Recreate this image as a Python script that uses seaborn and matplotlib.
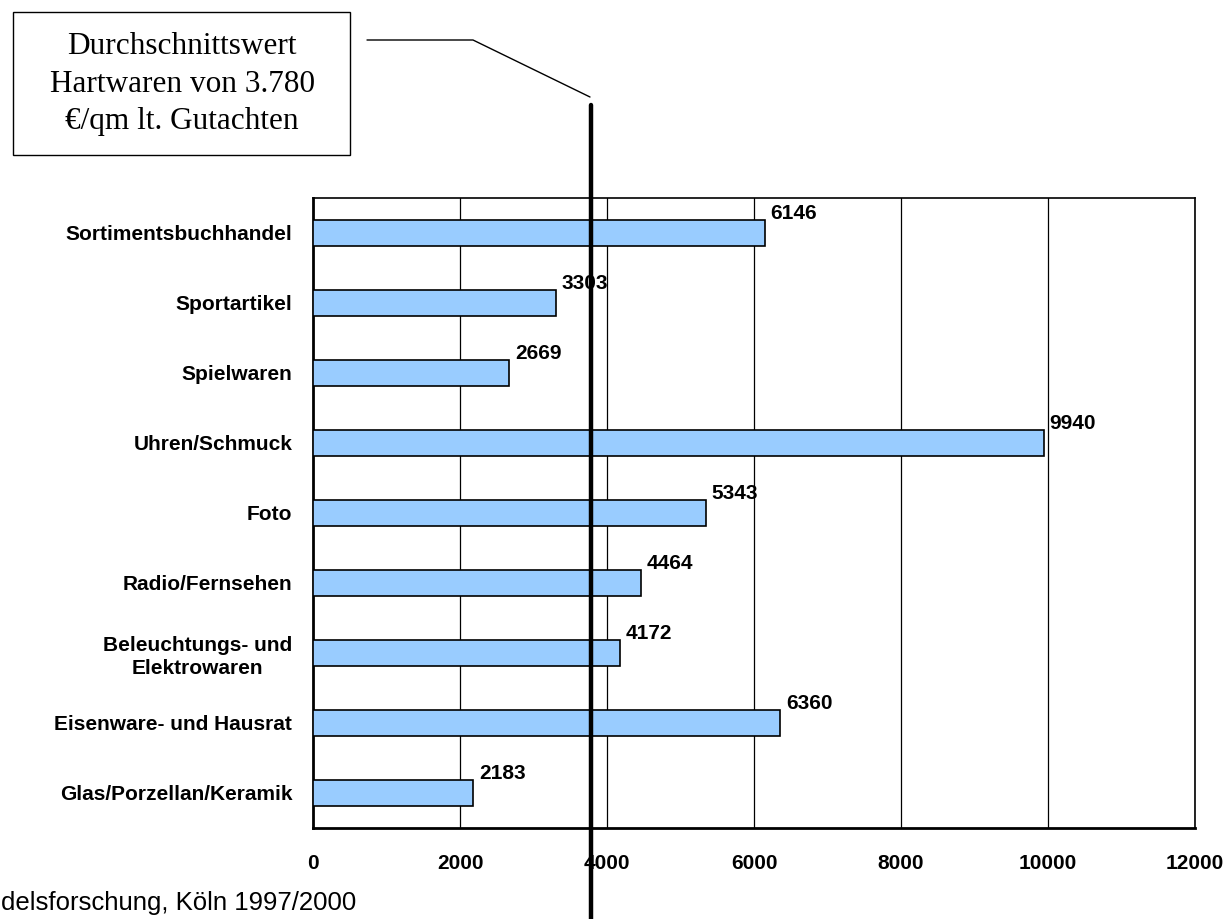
import numpy as np
import pandas as pd
import matplotlib
matplotlib.use("Agg")
import matplotlib.pyplot as plt
from matplotlib.lines import Line2D
from matplotlib.patches import Rectangle
import seaborn as sns

categories = ["Sortimentsbuchhandel", "Sportartikel", "Spielwaren", "Uhren/Schmuck",
              "Foto", "Radio/Fernsehen", "Beleuchtungs- und\nElektrowaren",
              "Eisenware- und Hausrat", "Glas/Porzellan/Keramik"]
values = [6146, 3303, 2669, 9940, 5343, 4464, 4172, 6360, 2183]
x_ticks = [0, 2000, 4000, 6000, 8000, 10000, 12000]
average = 3780

df = pd.DataFrame({"branche": categories, "wert": values})

sns.set_style("white")
plt.rcParams["font.family"] = ["Liberation Sans", "DejaVu Sans"]
plt.rcParams["text.color"] = "black"
plt.rcParams["xtick.color"] = "black"
plt.rcParams["ytick.color"] = "black"

W, H = 1227, 919
fig = plt.figure(figsize=(W / 100, H / 100), dpi=100)
ax = fig.add_axes([313 / W, 1 - 828 / H, (1195 - 313) / W, (828 - 198) / H])

sns.barplot(data=df, x="wert", y="branche", orient="h", color="#99CCFF",
            edgecolor="black", linewidth=1.2, width=0.38, saturation=1, ax=ax, zorder=3)

ax.set_xlim(0, 12000)
ax.set_ylim(len(categories) - 0.5, -0.5)
ax.set_xticks(x_ticks)
ax.set_xticklabels([str(t) for t in x_ticks], fontsize=15, fontweight="bold")
ax.tick_params(axis="x", length=0, pad=19)
ax.set_yticks(range(len(categories)))
ax.set_yticklabels(categories, fontsize=15, fontweight="bold", linespacing=1.3)
for lab in ax.get_yticklabels():
    lab.set_multialignment("center")
ax.tick_params(axis="y", which="major", length=0, pad=15)
ax.set_yticks(np.arange(-0.5, len(categories)), minor=True)
ax.tick_params(axis="y", which="minor", length=7, width=1.2, color="black", direction="out")
ax.set_xlabel("")
ax.set_ylabel("")

for x in x_ticks[1:]:
    ax.axvline(x, color="black", linewidth=0.9, zorder=1)
for s in ax.spines.values():
    s.set_color("black")
    s.set_linewidth(1.2)
ax.spines["left"].set_linewidth(2)
ax.spines["bottom"].set_linewidth(2)

for i, v in enumerate(values):
    ax.text(v + 80, i - 0.28, str(v), fontsize=15, fontweight="bold", va="center", ha="left", zorder=5)

# average line, runs past the axes
ax.axvline(average, ymin=-0.2, ymax=(828 - 105) / 630, color="black", linewidth=3.2,
           clip_on=False, zorder=6)

# annotation box
fig.patches.append(Rectangle((13 / W, 1 - 155 / H), (350 - 13) / W, (155 - 12) / H,
                             transform=fig.transFigure, facecolor="white",
                             edgecolor="black", linewidth=1))
fig.text(182 / W, 1 - 84 / H, "Durchschnittswert\nHartwaren von 3.780\n€/qm lt. Gutachten",
         ha="center", va="center", fontsize=22.5, linespacing=1.38,
         family=["Liberation Serif", "DejaVu Serif"])
fig.lines.append(Line2D([367 / W, 473 / W, 590 / W], [1 - 40 / H, 1 - 40 / H, 1 - 97 / H],
                        transform=fig.transFigure, color="black", linewidth=1))

fig.text(1 / W, 1 - 903 / H, "delsforschung, Köln 1997/2000",
         ha="left", va="center", fontsize=18.5)

fig.savefig("out.png", dpi=100)
